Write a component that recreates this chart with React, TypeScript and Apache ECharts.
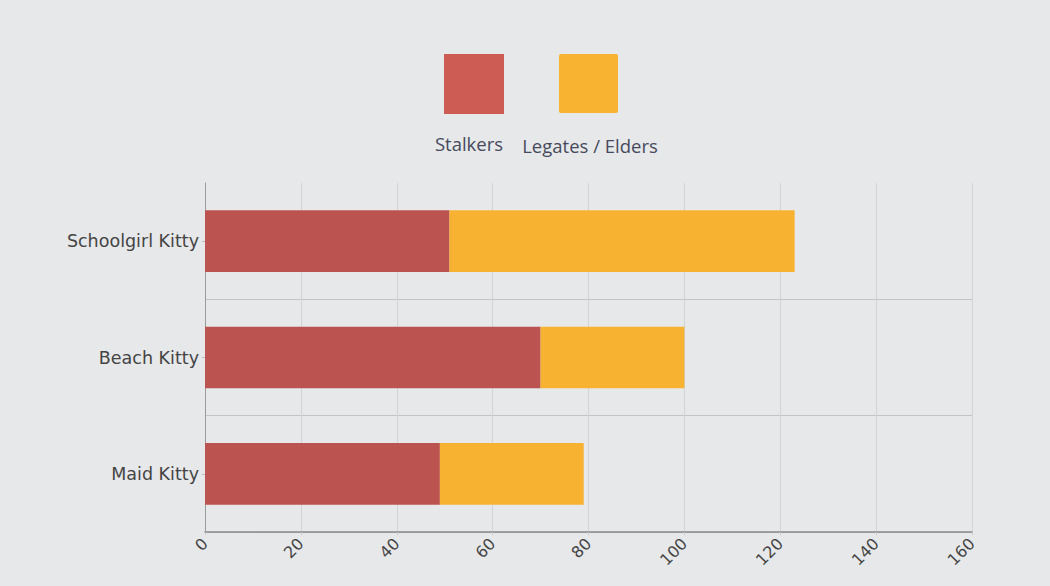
import React, { useEffect, useRef } from "react";
import * as echarts from "echarts";

const categories = ["Maid Kitty", "Beach Kitty", "Schoolgirl Kitty"];
const seriesNames = ["Stalkers", "Legates / Elders"];
const stalkers = [49, 70, 51];
const legates = [30, 30, 72];
const xTicks = [0, 20, 40, 60, 80, 100, 120, 140, 160];

const FONT = "'DejaVu Sans', sans-serif";
const LEGEND_FONT = "'Open Sans', sans-serif";

export default function App() {
  const ref = useRef<HTMLDivElement>(null);
  useEffect(() => {
    document.body.style.margin = "0";
    if (!ref.current) return;
    const chart = echarts.init(ref.current, null, { renderer: "svg" });
    chart.setOption({
      animation: false,
      backgroundColor: "#e7e8ea",
      grid: { left: 205, right: 78, top: 183, bottom: 54, containLabel: false },
      graphic: [
        { type: "rect", shape: { x: 444, y: 54, width: 60, height: 60 }, style: { fill: "#cc5c54" } },
        { type: "rect", shape: { x: 559, y: 54, width: 59, height: 59, r: 2 }, style: { fill: "#f8b331" } },
        {
          type: "text",
          x: 469,
          y: 143,
          style: { text: seriesNames[0], fill: "#464a5c", font: `18.5px ${LEGEND_FONT}`, align: "center", verticalAlign: "middle" },
        },
        {
          type: "text",
          x: 590,
          y: 145,
          style: { text: seriesNames[1], fill: "#464a5c", font: `18.5px ${LEGEND_FONT}`, align: "center", verticalAlign: "middle" },
        },
      ],
      xAxis: {
        type: "value",
        min: xTicks[0],
        max: xTicks[xTicks.length - 1],
        interval: 20,
        axisLine: { show: true, lineStyle: { color: "#8a8a8a", width: 1.5 } },
        axisTick: { show: true, length: 3, lineStyle: { color: "#c8c8c8" } },
        axisLabel: { rotate: 45, color: "#444", fontFamily: FONT, fontSize: 16, margin: 9 },
        splitLine: { show: true, lineStyle: { color: "#d3d3d5", width: 1 } },
      },
      yAxis: {
        type: "category",
        data: categories,
        axisLine: { show: true, lineStyle: { color: "#9a9a9a", width: 1 } },
        axisTick: { show: true, alignWithLabel: true, length: 3, lineStyle: { color: "#bbb" } },
        axisLabel: { color: "#444", fontFamily: FONT, fontSize: 17.5, margin: 6 },
        splitLine: { show: true, lineStyle: { color: ["#c4c4c6", "#c4c4c6", "#c4c4c6", "rgba(0,0,0,0)"], width: 1 } },
      },
      series: [
        {
          name: seriesNames[0],
          type: "bar",
          stack: "total",
          data: stalkers,
          barCategoryGap: "47%",
          itemStyle: { color: "#bb5450" },
        },
        {
          name: seriesNames[1],
          type: "bar",
          stack: "total",
          data: legates,
          barCategoryGap: "47%",
          itemStyle: { color: "#f8b231" },
        },
      ],
    });
    return () => chart.dispose();
  }, []);
  return <div ref={ref} style={{ width: 1050, height: 586 }} />;
}
